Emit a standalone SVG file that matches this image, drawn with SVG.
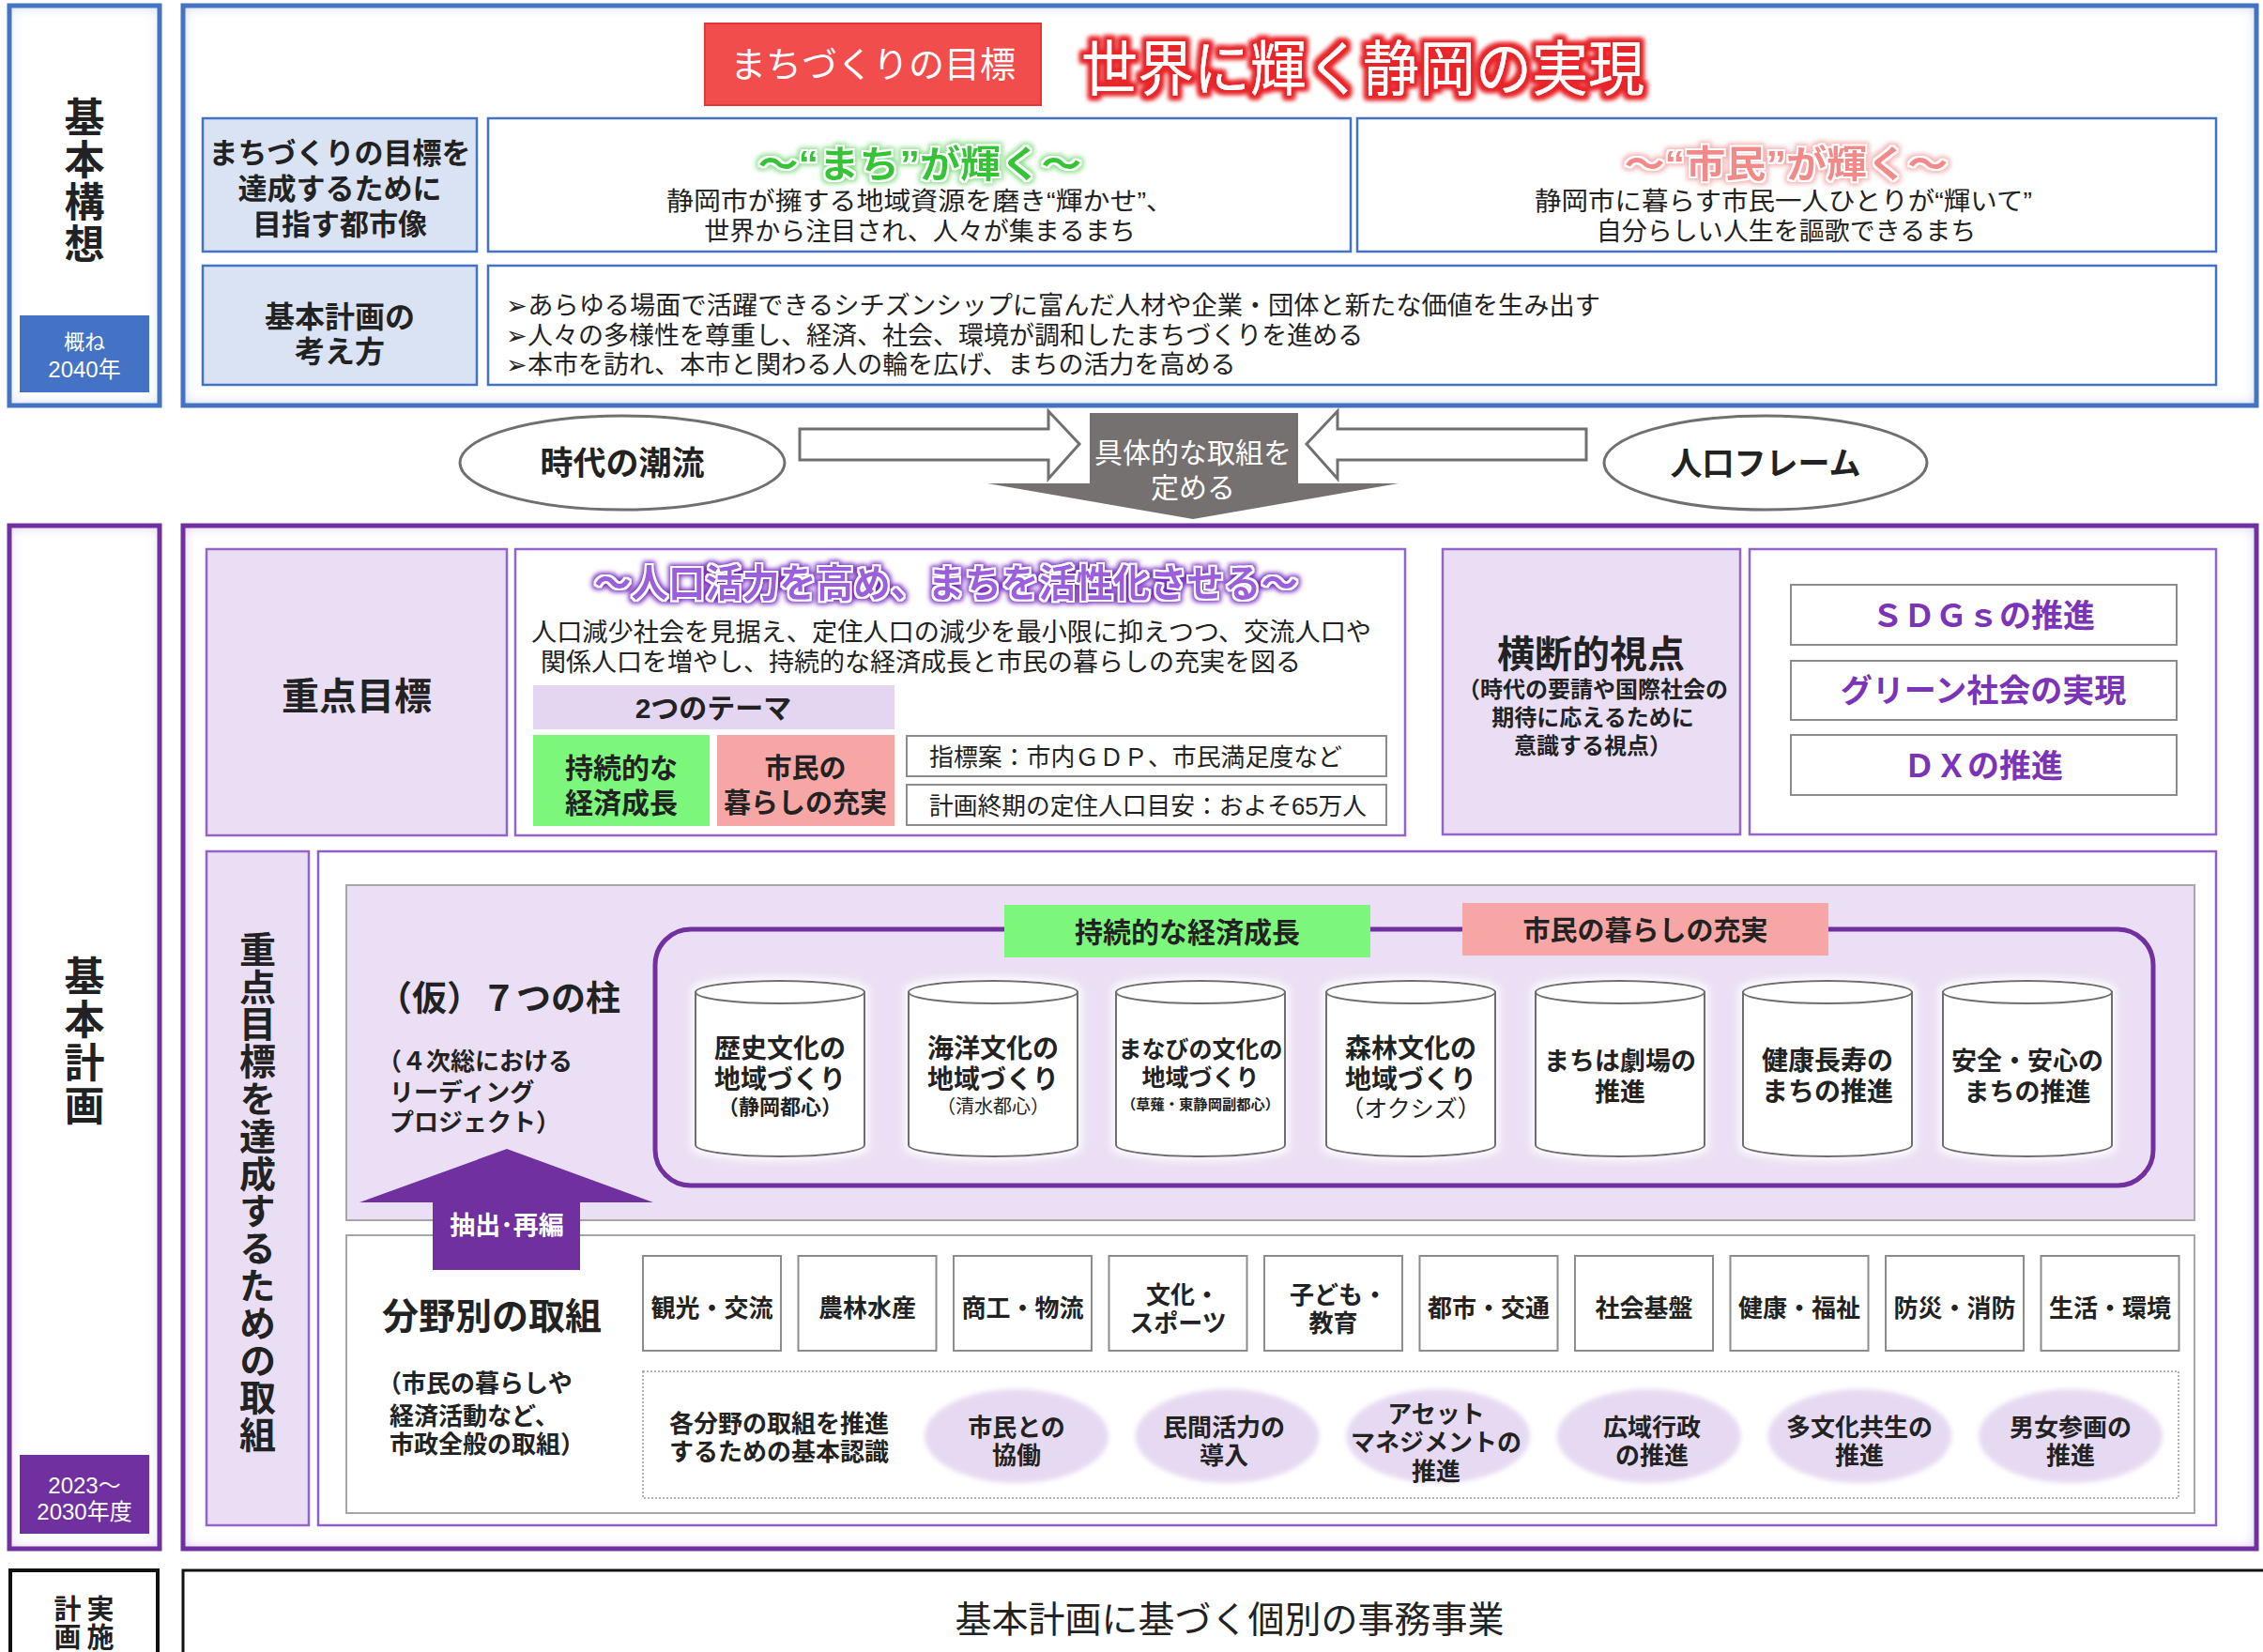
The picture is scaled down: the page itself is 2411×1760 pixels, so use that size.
<svg xmlns="http://www.w3.org/2000/svg" width="2411" height="1760" viewBox="0 0 2411 1760">
<defs>
<style>
text{font-family:"Liberation Sans","Noto Sans CJK JP","Noto Sans",sans-serif;fill:#222}
.b{font-weight:bold}
.c{text-anchor:middle}
.w{fill:#fff}
.v{writing-mode:vertical-rl;text-anchor:middle}
.blueBox{fill:#DAE3F3;stroke:#4472C4;stroke-width:2.5}
.wBlue{fill:#fff;stroke:#4472C4;stroke-width:2.5}
.lav{fill:#E9DEF4;stroke:#9365C9;stroke-width:2.5}
.wPurp{fill:#fff;stroke:#9365C9;stroke-width:2.5}
.grayBox{fill:#fff;stroke:#8C8C8C;stroke-width:2}
.cyl{fill:#fff;stroke:#6E6E6E;stroke-width:2}
.hollow{fill:#fff;stroke:#707070;stroke-width:3;stroke-linejoin:miter}
.circ{fill:#E6DAF2}
</style>
<filter id="inBlue" x="-2%" y="-5%" width="104%" height="110%">
<feFlood flood-color="#b4c7e7"/><feComposite in2="SourceAlpha" operator="out"/><feGaussianBlur stdDeviation="7"/><feComposite in2="SourceAlpha" operator="in" result="s"/>
<feMerge><feMergeNode in="SourceGraphic"/><feMergeNode in="s"/></feMerge>
</filter>
<filter id="inPurp" x="-2%" y="-5%" width="104%" height="110%">
<feFlood flood-color="#cdb4e8"/><feComposite in2="SourceAlpha" operator="out"/><feGaussianBlur stdDeviation="7"/><feComposite in2="SourceAlpha" operator="in" result="s"/>
<feMerge><feMergeNode in="SourceGraphic"/><feMergeNode in="s"/></feMerge>
</filter>
<filter id="gRed" x="-10%" y="-40%" width="120%" height="180%">
<feMorphology in="SourceAlpha" operator="dilate" radius="4" result="d"/><feGaussianBlur in="d" stdDeviation="2.5" result="b"/>
<feFlood flood-color="#e8262a"/><feComposite in2="b" operator="in" result="g"/>
<feMerge><feMergeNode in="g"/><feMergeNode in="g"/><feMergeNode in="SourceGraphic"/></feMerge>
</filter>
<filter id="gPurp" x="-10%" y="-40%" width="120%" height="180%">
<feMorphology in="SourceAlpha" operator="dilate" radius="1.5" result="d1"/><feFlood flood-color="#fff"/><feComposite in2="d1" operator="in" result="wo"/>
<feMorphology in="SourceAlpha" operator="dilate" radius="3.5" result="d2"/><feGaussianBlur in="d2" stdDeviation="2.5" result="b2"/>
<feFlood flood-color="#7a2fc2"/><feComposite in2="b2" operator="in" result="g"/>
<feMerge><feMergeNode in="g"/><feMergeNode in="wo"/><feMergeNode in="SourceGraphic"/></feMerge>
</filter>
<filter id="gGreen" x="-10%" y="-40%" width="120%" height="180%">
<feMorphology in="SourceAlpha" operator="dilate" radius="1.5" result="d1"/><feFlood flood-color="#fff"/><feComposite in2="d1" operator="in" result="wo"/>
<feMorphology in="SourceAlpha" operator="dilate" radius="3.5" result="d2"/><feGaussianBlur in="d2" stdDeviation="2.5" result="b2"/>
<feFlood flood-color="#8fe08f"/><feComposite in2="b2" operator="in" result="g"/>
<feMerge><feMergeNode in="g"/><feMergeNode in="wo"/><feMergeNode in="SourceGraphic"/></feMerge>
</filter>
<filter id="gPink" x="-10%" y="-40%" width="120%" height="180%">
<feMorphology in="SourceAlpha" operator="dilate" radius="1.5" result="d1"/><feFlood flood-color="#fff"/><feComposite in2="d1" operator="in" result="wo"/>
<feMorphology in="SourceAlpha" operator="dilate" radius="3.5" result="d2"/><feGaussianBlur in="d2" stdDeviation="2.5" result="b2"/>
<feFlood flood-color="#f7b0b0"/><feComposite in2="b2" operator="in" result="g"/>
<feMerge><feMergeNode in="g"/><feMergeNode in="wo"/><feMergeNode in="SourceGraphic"/></feMerge>
</filter>
<filter id="gWhite" x="-20%" y="-20%" width="140%" height="140%">
<feMorphology in="SourceAlpha" operator="dilate" radius="3" result="d"/><feGaussianBlur in="d" stdDeviation="5" result="b"/>
<feFlood flood-color="#fff"/><feComposite in2="b" operator="in" result="g"/>
<feMerge><feMergeNode in="g"/><feMergeNode in="SourceGraphic"/></feMerge>
</filter>
<filter id="soft" x="-10%" y="-10%" width="120%" height="120%"><feGaussianBlur stdDeviation="2.5"/></filter>
</defs>
<rect x="0" y="0" width="2411" height="1760" fill="#fff"/>

<!-- ===== 基本構想 section ===== -->
<g id="kihon-kousou-label">
<rect x="10" y="6" width="160" height="426" fill="#fff" filter="url(#inBlue)"/>
<rect x="10" y="6" width="160" height="426" fill="none" stroke="#4472C4" stroke-width="5"/>
<text class="b v" font-size="43" letter-spacing="2" x="86" y="193">基本構想</text>
<rect x="21" y="336" width="138" height="82" fill="#4472C4"/>
<text class="c w" font-size="22" x="90" y="372">概ね</text>
<text class="c w" font-size="24" x="90" y="402">2040年</text>
</g>

<g id="kousou-main">
<rect x="195" y="6" width="2209" height="426" fill="#fff" filter="url(#inBlue)"/>
<rect x="195" y="6" width="2209" height="426" fill="none" stroke="#4472C4" stroke-width="5"/>
</g>

<g id="goal-label">
<rect x="751" y="25" width="358" height="87" fill="#F14D4D" stroke="#E03838" stroke-width="2"/>
<text class="c w" font-size="38" x="930" y="82">まちづくりの目標</text>
</g>
<g id="goal-title">
<text class="c w" font-size="64" x="1452" y="96" textLength="600" lengthAdjust="spacingAndGlyphs" filter="url(#gRed)">世界に輝く静岡の実現</text>
</g>

<g id="toshizou-label">
<rect x="216" y="126" width="292" height="142" class="blueBox"/>
<text class="b c" font-size="31"><tspan x="362" y="174">まちづくりの目標を</tspan><tspan x="362" y="212">達成するために</tspan><tspan x="362" y="250">目指す都市像</tspan></text>
</g>
<g id="machi-kagayaku">
<rect x="520" y="126" width="919" height="142" class="wBlue"/>
<text class="b c" font-size="40" x="980" y="189" style="fill:#35C435" textLength="345" lengthAdjust="spacingAndGlyphs" filter="url(#gGreen)">～“まち”が輝く～</text>
<text class="c" font-size="27" x="980" y="224" textLength="540" lengthAdjust="spacingAndGlyphs">静岡市が擁する地域資源を磨き“輝かせ”、</text>
<text class="c" font-size="27" x="980" y="256">世界から注目され、人々が集まるまち</text>
</g>
<g id="shimin-kagayaku">
<rect x="1446" y="126" width="915" height="142" class="wBlue"/>
<text class="b c" font-size="40" x="1903" y="189" style="fill:#F28A8A" textLength="345" lengthAdjust="spacingAndGlyphs" filter="url(#gPink)">～“市民”が輝く～</text>
<text class="c" font-size="27" x="1900" y="224" textLength="530" lengthAdjust="spacingAndGlyphs">静岡市に暮らす市民一人ひとりが“輝いて”</text>
<text class="c" font-size="27" x="1903" y="256">自分らしい人生を謳歌できるまち</text>
</g>

<g id="kangaekata-label">
<rect x="216" y="283" width="292" height="127" class="blueBox"/>
<text class="b c" font-size="32"><tspan x="362" y="349">基本計画の</tspan><tspan x="362" y="386">考え方</tspan></text>
</g>
<g id="kangaekata-body">
<rect x="520" y="283" width="1841" height="127" class="wBlue"/>
<text font-size="27" x="539" y="335" textLength="1166" lengthAdjust="spacingAndGlyphs">➢あらゆる場面で活躍できるシチズンシップに富んだ人材や企業・団体と新たな価値を生み出す</text>
<text font-size="27" x="539" y="367">➢人々の多様性を尊重し、経済、社会、環境が調和したまちづくりを進める</text>
<text font-size="27" x="539" y="398">➢本市を訪れ、本市と関わる人の輪を広げ、まちの活力を高める</text>
</g>

<!-- ===== middle band ===== -->
<g id="jidai-no-chouryuu">
<ellipse cx="663" cy="493" rx="173" ry="50" fill="#fff" stroke="#707070" stroke-width="3"/>
<text class="b c" font-size="35" x="663" y="506">時代の潮流</text>
</g>
<g id="jinkou-frame">
<ellipse cx="1881" cy="493" rx="172" ry="50" fill="#fff" stroke="#707070" stroke-width="3"/>
<text class="b c" font-size="34" x="1881" y="506">人口フレーム</text>
</g>
<g id="connectors">
<polygon class="hollow" points="852,457 1117,457 1117,438 1150,473 1117,510 1117,490 852,490"/>
<polygon class="hollow" points="1690,457 1425,457 1425,438 1392,473 1425,510 1425,490 1690,490"/>
<polygon fill="#767171" points="1161,440 1383,440 1383,515 1490,515 1271,553 1052,515 1161,515"/>
</g>
<g id="gutaiteki">
<text class="c w" font-size="30" x="1271" y="493">具体的な取組を</text>
<text class="c w" font-size="30" x="1271" y="530">定める</text>
</g>

<!-- ===== 基本計画 section ===== -->
<g id="kihon-keikaku-label">
<rect x="10" y="560" width="160" height="1090" fill="#fff" filter="url(#inPurp)"/>
<rect x="10" y="560" width="160" height="1090" fill="none" stroke="#7030A0" stroke-width="5"/>
<text class="b v" font-size="43" letter-spacing="3" x="86" y="1110">基本計画</text>
<rect x="21" y="1550" width="138" height="84" fill="#7030A0"/>
<text class="c w" font-size="24" x="90" y="1591">2023～</text>
<text class="c w" font-size="24" x="90" y="1619">2030年度</text>
</g>
<g id="keikaku-main">
<rect x="195" y="560" width="2209" height="1090" fill="#fff" filter="url(#inPurp)"/>
<rect x="195" y="560" width="2209" height="1090" fill="none" stroke="#7030A0" stroke-width="5"/>
</g>

<g id="juten-mokuhyou-label">
<rect x="220" y="585" width="320" height="305" class="lav"/>
<text class="b c" font-size="40" x="380" y="756">重点目標</text>
</g>
<g id="juten-mokuhyou-body">
<rect x="549" y="585" width="948" height="305" class="wPurp"/>
<text class="b c" font-size="41" x="1008" y="636" style="fill:#9C5FDB" textLength="750" lengthAdjust="spacingAndGlyphs" filter="url(#gPurp)">～人口活力を高め、まちを活性化させる～</text>
<text font-size="27" x="566" y="683" textLength="895" lengthAdjust="spacingAndGlyphs">人口減少社会を見据え、定住人口の減少を最小限に抑えつつ、交流人口や</text>
<text font-size="27" x="576" y="715">関係人口を増やし、持続的な経済成長と市民の暮らしの充実を図る</text>
<rect x="568" y="730" width="385" height="47" fill="#E4D6F1"/>
<text class="b c" font-size="30" x="760" y="765">2つのテーマ</text>
<rect x="568" y="783" width="188" height="97" fill="#7CF77C"/>
<text class="b c" font-size="30"><tspan x="662" y="829">持続的な</tspan><tspan x="662" y="866">経済成長</tspan></text>
<rect x="764" y="783" width="189" height="97" fill="#F7A6A6"/>
<text class="b c" font-size="29"><tspan x="858" y="829">市民の</tspan><tspan x="858" y="866">暮らしの充実</tspan></text>
<rect x="966" y="784" width="511" height="43" class="grayBox"/>
<text font-size="26" x="990" y="816" textLength="440" lengthAdjust="spacingAndGlyphs">指標案：市内ＧＤＰ、市民満足度など</text>
<rect x="966" y="836" width="511" height="43" class="grayBox"/>
<text font-size="26" x="990" y="868" textLength="466" lengthAdjust="spacingAndGlyphs">計画終期の定住人口目安：およそ65万人</text>
</g>

<g id="oudanteki-label">
<rect x="1537" y="585" width="317" height="304" class="lav"/>
<text class="b c" font-size="40" x="1695" y="711">横断的視点</text>
<text class="b c" font-size="24"><tspan x="1697" y="743">（時代の要請や国際社会の</tspan><tspan x="1697" y="773">期待に応えるために</tspan><tspan x="1697" y="803">意識する視点）</tspan></text>
</g>
<g id="oudanteki-body">
<rect x="1864" y="585" width="497" height="304" class="wPurp"/>
<rect x="1908" y="623" width="411" height="64" class="grayBox"/>
<text class="b c" font-size="34" x="2113" y="668" style="fill:#7B34B8">ＳＤＧｓの推進</text>
<rect x="1908" y="704" width="411" height="63" class="grayBox"/>
<text class="b c" font-size="34" x="2113" y="748" style="fill:#7B34B8">グリーン社会の実現</text>
<rect x="1908" y="783" width="411" height="64" class="grayBox"/>
<text class="b c" font-size="34" x="2113" y="828" style="fill:#7B34B8">ＤＸの推進</text>
</g>

<g id="torikumi-label">
<rect x="220" y="907" width="109" height="718" class="lav"/>
<text class="b v" font-size="39" letter-spacing="0.8" x="271" y="1270">重点目標を達成するための取組</text>
</g>

<g id="torikumi-body">
<rect x="339" y="907" width="2022" height="718" fill="#fff" stroke="#8F5FC8" stroke-width="2.5"/>
</g>

<g id="hashira-area">
<rect x="369" y="943" width="1969" height="357" fill="#EADFF4" stroke="#A6A6A6" stroke-width="2"/>
<text class="b" font-size="37" x="402" y="1077">（仮）７つの柱</text>
<text class="b" font-size="26"><tspan x="402" y="1140">（４次総における</tspan><tspan x="415" y="1173">リーディング</tspan><tspan x="415" y="1205">プロジェクト）</tspan></text>
<rect x="698" y="990" width="1596" height="273" rx="38" fill="none" stroke="#7030A0" stroke-width="5"/>
<rect x="1070" y="964" width="390" height="56" fill="#7CF77C"/>
<text class="b c" font-size="30" x="1265" y="1004">持続的な経済成長</text>
<rect x="1558" y="962" width="390" height="56" fill="#F7A6A6"/>
<text class="b c" font-size="29" x="1753" y="1002">市民の暮らしの充実</text>
</g>

<g id="pillar-1">
<g filter="url(#gWhite)"><path class="cyl" d="M741,1057 V1220 A90,12 0 0 0 921,1220 V1057 Z"/><ellipse class="cyl" cx="831" cy="1057" rx="90" ry="12"/></g>
<text class="b c" font-size="28"><tspan x="831" y="1127">歴史文化の</tspan><tspan x="831" y="1160">地域づくり</tspan></text>
<text class="b c" font-size="22" x="831" y="1187">（静岡都心）</text>
</g>
<g id="pillar-2">
<g filter="url(#gWhite)"><path class="cyl" d="M968,1057 V1220 A90,12 0 0 0 1148,1220 V1057 Z"/><ellipse class="cyl" cx="1058" cy="1057" rx="90" ry="12"/></g>
<text class="b c" font-size="28"><tspan x="1058" y="1127">海洋文化の</tspan><tspan x="1058" y="1160">地域づくり</tspan></text>
<text class="c" font-size="20" x="1058" y="1186">（清水都心）</text>
</g>
<g id="pillar-3">
<g filter="url(#gWhite)"><path class="cyl" d="M1189,1057 V1220 A90,12 0 0 0 1369,1220 V1057 Z"/><ellipse class="cyl" cx="1279" cy="1057" rx="90" ry="12"/></g>
<text class="b c" font-size="25"><tspan x="1279" y="1127">まなびの文化の</tspan><tspan x="1279" y="1157">地域づくり</tspan></text>
<text class="b c" font-size="15" x="1279" y="1182" textLength="168" lengthAdjust="spacingAndGlyphs">（草薙・東静岡副都心）</text>
</g>
<g id="pillar-4">
<g filter="url(#gWhite)"><path class="cyl" d="M1413,1057 V1220 A90,12 0 0 0 1593,1220 V1057 Z"/><ellipse class="cyl" cx="1503" cy="1057" rx="90" ry="12"/></g>
<text class="b c" font-size="28"><tspan x="1503" y="1127">森林文化の</tspan><tspan x="1503" y="1160">地域づくり</tspan></text>
<text class="c" font-size="25" x="1503" y="1190">（オクシズ）</text>
</g>
<g id="pillar-5">
<g filter="url(#gWhite)"><path class="cyl" d="M1636,1057 V1220 A90,12 0 0 0 1816,1220 V1057 Z"/><ellipse class="cyl" cx="1726" cy="1057" rx="90" ry="12"/></g>
<text class="b c" font-size="27"><tspan x="1726" y="1140">まちは劇場の</tspan><tspan x="1726" y="1173">推進</tspan></text>
</g>
<g id="pillar-6">
<g filter="url(#gWhite)"><path class="cyl" d="M1857,1057 V1220 A90,12 0 0 0 2037,1220 V1057 Z"/><ellipse class="cyl" cx="1947" cy="1057" rx="90" ry="12"/></g>
<text class="b c" font-size="28"><tspan x="1947" y="1140">健康長寿の</tspan><tspan x="1947" y="1173">まちの推進</tspan></text>
</g>
<g id="pillar-7">
<g filter="url(#gWhite)"><path class="cyl" d="M2070,1057 V1220 A90,12 0 0 0 2250,1220 V1057 Z"/><ellipse class="cyl" cx="2160" cy="1057" rx="90" ry="12"/></g>
<text class="b c" font-size="27"><tspan x="2160" y="1140">安全・安心の</tspan><tspan x="2160" y="1173">まちの推進</tspan></text>
</g>

<g id="bunyabetsu">
<rect x="369" y="1316" width="1969" height="296" fill="#fff" stroke="#A6A6A6" stroke-width="2"/>
<text class="b" font-size="39" x="407" y="1416">分野別の取組</text>
<text class="b" font-size="26"><tspan x="402" y="1483">（市民の暮らしや</tspan><tspan x="415" y="1518">経済活動など、</tspan><tspan x="415" y="1548">市政全般の取組）</tspan></text>
</g>
<g id="extract-arrow">
<polygon fill="#7030A0" points="461,1353 461,1281 383,1281 540,1224 696,1281 618,1281 618,1353"/>
<text class="b c w" font-size="27" x="540" y="1315">抽出･再編</text>
</g>

<g id="field-boxes">
<rect x="685" y="1338" width="147" height="101" class="grayBox"/><text class="b c" font-size="26" x="758.5" y="1403">観光・交流</text>
<rect x="850.5" y="1338" width="147" height="101" class="grayBox"/><text class="b c" font-size="26" x="924" y="1403">農林水産</text>
<rect x="1016" y="1338" width="147" height="101" class="grayBox"/><text class="b c" font-size="26" x="1089.5" y="1403">商工・物流</text>
<rect x="1181.5" y="1338" width="147" height="101" class="grayBox"/><text class="b c" font-size="26"><tspan x="1260" y="1389">文化・</tspan><tspan x="1255" y="1419">スポーツ</tspan></text>
<rect x="1347" y="1338" width="147" height="101" class="grayBox"/><text class="b c" font-size="26"><tspan x="1426" y="1389">子ども・</tspan><tspan x="1420.5" y="1419">教育</tspan></text>
<rect x="1512.5" y="1338" width="147" height="101" class="grayBox"/><text class="b c" font-size="26" x="1586" y="1403">都市・交通</text>
<rect x="1678" y="1338" width="147" height="101" class="grayBox"/><text class="b c" font-size="26" x="1751.5" y="1403">社会基盤</text>
<rect x="1843.5" y="1338" width="147" height="101" class="grayBox"/><text class="b c" font-size="26" x="1917" y="1403">健康・福祉</text>
<rect x="2009" y="1338" width="147" height="101" class="grayBox"/><text class="b c" font-size="26" x="2082.5" y="1403">防災・消防</text>
<rect x="2174.5" y="1338" width="147" height="101" class="grayBox"/><text class="b c" font-size="26" x="2248" y="1403">生活・環境</text>
</g>

<g id="kihon-ninshiki">
<rect x="685" y="1461" width="1636" height="135" fill="none" stroke="#999" stroke-width="1.5" stroke-dasharray="2,2"/>
<text class="b c" font-size="26"><tspan x="830" y="1526">各分野の取組を推進</tspan><tspan x="830" y="1556">するための基本認識</tspan></text>
<g filter="url(#soft)">
<ellipse class="circ" cx="1083" cy="1530" rx="98" ry="50"/>
<ellipse class="circ" cx="1307.6" cy="1530" rx="98" ry="50"/>
<ellipse class="circ" cx="1532.2" cy="1530" rx="98" ry="50"/>
<ellipse class="circ" cx="1756.8" cy="1530" rx="98" ry="50"/>
<ellipse class="circ" cx="1981.4" cy="1530" rx="98" ry="50"/>
<ellipse class="circ" cx="2206" cy="1530" rx="98" ry="50"/>
</g>
<text class="b c" font-size="26"><tspan x="1083" y="1530">市民との</tspan><tspan x="1083" y="1560">協働</tspan></text>
<text class="b c" font-size="26"><tspan x="1304" y="1530">民間活力の</tspan><tspan x="1304" y="1560">導入</tspan></text>
<text class="b c" font-size="26"><tspan x="1530" y="1516">アセット</tspan><tspan x="1530" y="1546">マネジメントの</tspan><tspan x="1530" y="1577">推進</tspan></text>
<text class="b c" font-size="26"><tspan x="1760" y="1530">広域行政</tspan><tspan x="1760" y="1560">の推進</tspan></text>
<text class="b c" font-size="26"><tspan x="1981" y="1530">多文化共生の</tspan><tspan x="1981" y="1560">推進</tspan></text>
<text class="b c" font-size="26"><tspan x="2206" y="1530">男女参画の</tspan><tspan x="2206" y="1560">推進</tspan></text>
</g>

<!-- ===== 実施計画 ===== -->
<g id="jisshi-label">
<rect x="11" y="1673" width="157" height="120" fill="#fff" stroke="#111" stroke-width="4"/>
<text class="b v" font-size="29" letter-spacing="1" x="104" y="1729">実施</text>
<text class="b v" font-size="29" letter-spacing="1" x="69" y="1729">計画</text>
</g>
<g id="jisshi-body">
<rect x="195" y="1673" width="2240" height="120" fill="#fff" stroke="#111" stroke-width="3"/>
<text class="c" font-size="39" x="1310" y="1739">基本計画に基づく個別の事務事業</text>
</g>
</svg>
